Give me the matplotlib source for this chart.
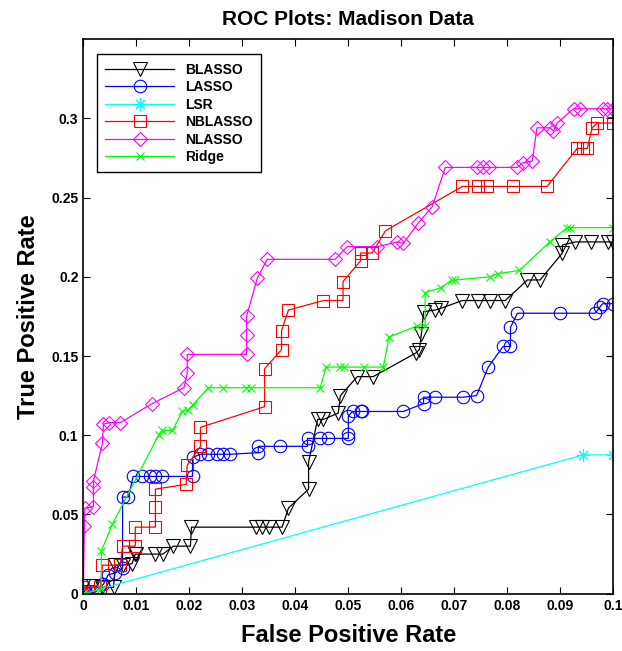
import matplotlib
matplotlib.use('Agg')
import matplotlib.pyplot as plt

plt.rcParams['font.family'] = ['Liberation Sans', 'DejaVu Sans']
plt.rcParams['font.weight'] = 'bold'

# ROC points (false positive rate, true positive rate)
blasso_fpr = [0, 0, 0.0019, 0.0036, 0.0057, 0.006, 0.0075, 0.0092, 0.0098, 0.01, 0.0136, 0.015,
              0.017, 0.0202, 0.0204, 0.0325, 0.0338, 0.035, 0.0375, 0.0387, 0.0425, 0.0425, 0.0442,
              0.0453, 0.0481, 0.0485, 0.0517, 0.0547, 0.0628, 0.0634, 0.0638, 0.0642, 0.0664, 0.0674,
              0.0715, 0.0745, 0.0768, 0.0796, 0.0838, 0.0862, 0.0904, 0.0904, 0.0928, 0.0957, 0.099, 0.1]
blasso_tpr = [0, 0.005, 0.005, 0.004, 0.004, 0.018, 0.018, 0.019, 0.025, 0.025, 0.025, 0.025,
              0.030, 0.030, 0.042, 0.042, 0.042, 0.042, 0.042, 0.054, 0.066, 0.083, 0.110,
              0.110, 0.114, 0.125, 0.137, 0.137, 0.152, 0.154, 0.164, 0.178, 0.179, 0.180,
              0.185, 0.185, 0.185, 0.185, 0.198, 0.198, 0.215, 0.220, 0.222, 0.222, 0.222, 0.222]

lasso_fpr = [0, 0.0007, 0.0023, 0.0038, 0.0047, 0.006, 0.0074, 0.0074, 0.0085, 0.0094, 0.0111,
             0.0126, 0.0136, 0.0149, 0.0206, 0.0206, 0.0221, 0.0236, 0.0253, 0.0264, 0.0277,
             0.033, 0.033, 0.0372, 0.0423, 0.0423, 0.0447, 0.0462, 0.05, 0.05, 0.05, 0.0508,
             0.0523, 0.0526, 0.0604, 0.0642, 0.0642, 0.0664, 0.0717, 0.0742, 0.0764, 0.0792,
             0.0806, 0.0806, 0.0819, 0.09, 0.0966, 0.0975, 0.098, 0.1]
lasso_tpr = [0, 0, 0.001, 0.006, 0.012, 0.013, 0.016, 0.061, 0.061, 0.074, 0.074,
             0.074, 0.074, 0.074, 0.074, 0.086, 0.088, 0.088, 0.088, 0.088, 0.088,
             0.089, 0.093, 0.093, 0.093, 0.098, 0.098, 0.098, 0.098, 0.101, 0.112, 0.115,
             0.115, 0.115, 0.115, 0.120, 0.124, 0.124, 0.124, 0.125, 0.143, 0.156,
             0.156, 0.168, 0.177, 0.177, 0.177, 0.181, 0.183, 0.183]

lsr_fpr = [0, 0.0943, 0.1]
lsr_tpr = [0, 0.0876, 0.0876]

nblasso_fpr = [0, 0, 0.0032, 0.0036, 0.007, 0.0074, 0.0098, 0.0098, 0.0136, 0.0136, 0.0136,
               0.0194, 0.0196, 0.0221, 0.0221, 0.0342, 0.0342, 0.0374, 0.0374, 0.0387, 0.0453,
               0.049, 0.049, 0.0523, 0.0523, 0.0545, 0.057, 0.0715, 0.0745, 0.0762, 0.081,
               0.0875, 0.0932, 0.0942, 0.0951, 0.096, 0.097, 0.1]
nblasso_tpr = [0, 0.004, 0.004, 0.018, 0.018, 0.030, 0.030, 0.042, 0.042, 0.055, 0.066,
               0.069, 0.081, 0.093, 0.105, 0.118, 0.142, 0.154, 0.166, 0.179, 0.185,
               0.185, 0.197, 0.210, 0.215, 0.215, 0.229, 0.257, 0.257, 0.257, 0.257,
               0.257, 0.281, 0.281, 0.281, 0.294, 0.297, 0.297]

nlasso_fpr = [0, 0.0002, 0.0003, 0.0019, 0.0019, 0.0019, 0.0036, 0.0038, 0.0049, 0.007, 0.013,
              0.019, 0.0196, 0.0196, 0.0308, 0.0308, 0.0308, 0.0328, 0.0347, 0.0475, 0.0498,
              0.0555, 0.0592, 0.0604, 0.0632, 0.0658, 0.0683, 0.0743, 0.0755, 0.0766, 0.0819,
              0.083, 0.0847, 0.0856, 0.0881, 0.0887, 0.0894, 0.0925, 0.0938, 0.098, 0.0989, 0.1]
nlasso_tpr = [0, 0.043, 0.054, 0.055, 0.0675, 0.071, 0.095, 0.107, 0.108, 0.108, 0.120,
              0.130, 0.139, 0.151, 0.151, 0.163, 0.175, 0.199, 0.211, 0.211, 0.219,
              0.219, 0.222, 0.221, 0.234, 0.244, 0.269, 0.269, 0.269, 0.269, 0.269,
              0.272, 0.273, 0.294, 0.294, 0.292, 0.297, 0.306, 0.306, 0.306, 0.306, 0.306]

ridge_fpr = [0, 0.0034, 0.0034, 0.0055, 0.0142, 0.0149, 0.0168, 0.0187, 0.0198, 0.0206, 0.0236,
             0.0264, 0.0306, 0.0317, 0.0447, 0.0458, 0.0485, 0.0492, 0.053, 0.0566, 0.0577,
             0.063, 0.0645, 0.0645, 0.0674, 0.0696, 0.0702, 0.0768, 0.0783, 0.0823, 0.088,
             0.0913, 0.0919, 0.1]
ridge_tpr = [0, 0.003, 0.027, 0.044, 0.100, 0.103, 0.103, 0.115, 0.116, 0.119, 0.130,
             0.130, 0.130, 0.130, 0.130, 0.143, 0.143, 0.143, 0.143, 0.143, 0.162,
             0.169, 0.169, 0.190, 0.193, 0.198, 0.198, 0.200, 0.202, 0.204, 0.222,
             0.231, 0.231, 0.231]

# asterisk marker like matlab's '*'
asterisk = (8, 2, 0)

series = [('BLASSO', blasso_fpr, blasso_tpr, 'k', 'v', 10),
          ('LASSO', lasso_fpr, lasso_tpr, '#0000ff', 'o', 9),
          ('LSR', lsr_fpr, lsr_tpr, '#00ffff', asterisk, 9),
          ('NBLASSO', nblasso_fpr, nblasso_tpr, '#ff0000', 's', 8),
          ('NLASSO', nlasso_fpr, nlasso_tpr, '#ff00ff', 'D', 7.5),
          ('Ridge', ridge_fpr, ridge_tpr, '#00ff00', 'x', 6)]

fig = plt.figure(figsize=(6.22, 6.51), dpi=100)
ax = fig.add_axes([0.134, 0.088, 0.852, 0.852])

for name, xs, ys, col, mk, ms in series:
    ax.plot(xs, ys, color=col, marker=mk, markersize=ms, markerfacecolor='none',
            markeredgecolor=col, markeredgewidth=0.8, linewidth=0.9, label=name)

ax.set_xlim(0, 0.1)
ax.set_ylim(0, 0.35)
ax.set_xticks([0, 0.01, 0.02, 0.03, 0.04, 0.05, 0.06, 0.07, 0.08, 0.09, 0.1])
ax.set_xticklabels(['0', '0.01', '0.02', '0.03', '0.04', '0.05', '0.06', '0.07', '0.08', '0.09', '0.1'])
ax.set_yticks([0, 0.05, 0.1, 0.15, 0.2, 0.25, 0.3])
ax.set_yticklabels(['0', '0.05', '0.1', '0.15', '0.2', '0.25', '0.3'])
ax.tick_params(direction='in', top=True, right=True, labelsize=10, length=5, width=0.8)
for sp in ax.spines.values():
    sp.set_linewidth(1.2)

ax.set_title('ROC Plots: Madison Data', fontsize=15, fontweight='bold', pad=10)
ax.set_xlabel('False Positive Rate', fontsize=17, fontweight='bold', labelpad=8)
ax.set_ylabel('True Positive Rate', fontsize=17, fontweight='bold', labelpad=8)

leg = ax.legend(loc='upper left', fontsize=10, handlelength=5.0, borderpad=0.6,
                labelspacing=0.25, fancybox=False, edgecolor='k', framealpha=1,
                bbox_to_anchor=(0.012, 0.985))
leg.get_frame().set_linewidth(1.0)
for t in leg.get_texts():
    t.set_fontweight('bold')

plt.savefig('out.png', dpi=100)
